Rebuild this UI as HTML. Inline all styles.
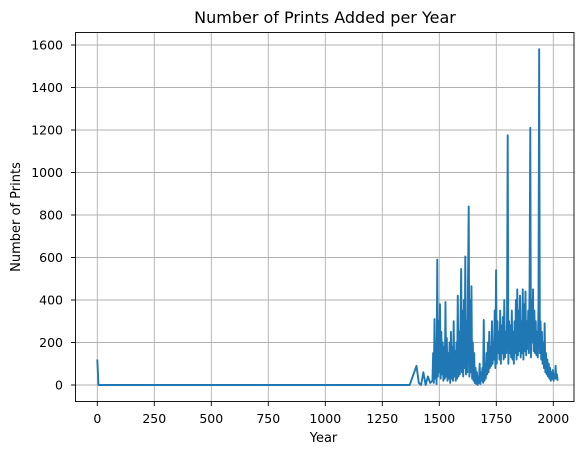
<!DOCTYPE html>
<html><head><meta charset="utf-8"><style>
body{margin:0;background:#fff}
svg text{font-family:"DejaVu Sans","Liberation Sans",sans-serif;fill:#000}
</style></head><body>
<svg id="chart" width="580" height="455" xmlns="http://www.w3.org/2000/svg">
<rect width="580" height="455" fill="#fff"/>
<g id="grid"></g>
<g id="ticks"></g>
<path id="line" fill="none" stroke="#1f77b4" stroke-width="1.9" stroke-linejoin="round"/>
<rect x="75.5" y="32.5" width="498.5" height="369" fill="none" stroke="#000" stroke-width="0.9"/>
<text x="325" y="23" text-anchor="middle" font-size="16">Number of Prints Added per Year</text>
<text x="323.5" y="442" text-anchor="middle" font-size="13">Year</text>
<text transform="translate(20,217) rotate(-90)" text-anchor="middle" font-size="13">Number of Prints</text>
</svg>
<script>
const xTicks=[0,250,500,750,1000,1250,1500,1750,2000];
const yTicks=[0,200,400,600,800,1000,1200,1400,1600];
const earlyYears=[0,5,1370,1400,1410,1420,1430,1440,1450,1460];
const earlyValues=[120,0,0,90,10,0,60,0,40,10];
const denseStart=1470, denseStep=3;
const denseValues=[
20,150,10,310,30,200,5,590,40,300,
60,380,30,250,50,200,20,180,30,390,
40,220,20,150,30,200,10,250,30,180,
20,300,40,160,20,200,30,420,40,250,
50,300,546,60,350,40,400,80,605,50,
300,60,500,840,40,400,60,465,30,200,
20,150,10,80,5,60,0,40,10,100,
5,60,20,80,10,306,20,100,30,150,
50,200,60,250,80,180,90,300,100,200,
120,350,80,540,100,300,150,250,120,350,
100,280,150,320,120,400,130,250,150,300,
1175,100,300,150,280,130,350,120,250,100,
300,150,400,120,450,140,350,160,420,130,
300,150,450,120,380,160,440,140,300,170,
350,150,480,1210,130,400,200,450,160,350,
150,300,140,250,130,380,1580,150,300,120,
250,100,200,80,290,60,150,50,120,40,
100,30,80,20,60,30,70,20,50,30,
90,30,50,20];
const X=v=>97.3+v*456/2000;
const Y=v=>385-v*0.2563*0.8291;
const NS="http://www.w3.org/2000/svg";
const grid=document.getElementById('grid'),ticks=document.getElementById('ticks');
function mk(t,a,p){const e=document.createElementNS(NS,t);for(const k in a)e.setAttribute(k,a[k]);p.appendChild(e);return e;}
xTicks.forEach(t=>{const x=X(t);
const g=mk('line',{x1:x,x2:x,y1:32.5,y2:401.5,stroke:'#b0b0b0','stroke-width':0.9},grid);


mk('line',{x1:x,x2:x,y1:401.5,y2:406,stroke:'#000','stroke-width':0.9},ticks);
const l=mk('text',{x:x,y:423,'text-anchor':'middle','font-size':12.5},ticks);l.textContent=t;

});
yTicks.forEach(t=>{const y=Y(t);
const g=mk('line',{x1:75.5,x2:574,y1:y,y2:y,stroke:'#b0b0b0','stroke-width':0.9},grid);


mk('line',{x1:71,x2:75.5,y1:y,y2:y,stroke:'#000','stroke-width':0.9},ticks);
const l=mk('text',{x:63,y:y+4.5,'text-anchor':'end','font-size':12.5},ticks);l.textContent=t;

});
const pts=[];
earlyYears.forEach((yr,i)=>pts.push([X(yr),Y(earlyValues[i])]));
denseValues.forEach((v,i)=>pts.push([X(denseStart+i*denseStep),Y(v)]));
document.getElementById('line').setAttribute('d','M'+pts.map(p=>p[0].toFixed(2)+','+p[1].toFixed(2)).join('L'));
</script>
</body></html>
